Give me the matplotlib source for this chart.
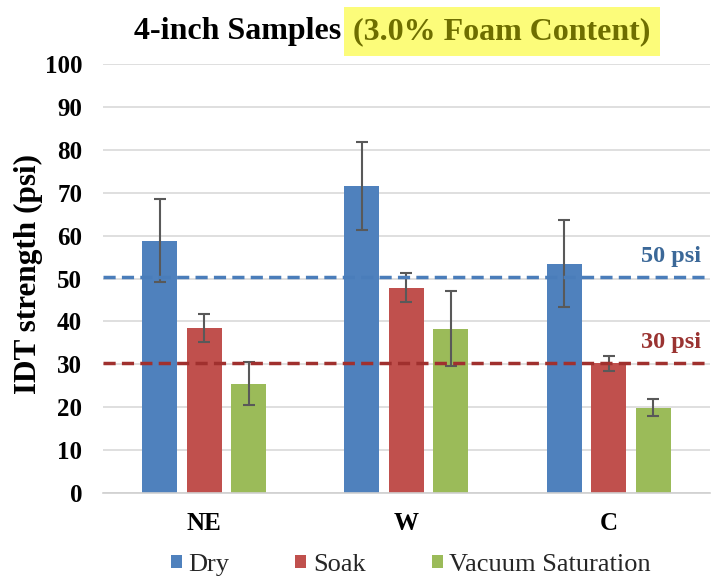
"""IDT strength of 4-inch samples at 3.0% foam content, grouped bars with error bars."""

import matplotlib
matplotlib.use("Agg")
import matplotlib.pyplot as plt
import numpy

sites = ["NE", "W", "C"]
conditions = ["Dry", "Soak", "Vacuum Saturation"]

# mean IDT strength (psi) per condition, one value per site
dry = [58.8, 71.6, 53.5]
soak = [38.5, 47.9, 30.2]
vacuum = [25.5, 38.3, 19.9]

# error bar half-lengths (psi)
dry_err = [9.7, 10.2, 10.1]
soak_err = [3.2, 3.3, 1.8]
vacuum_err = [5.1, 8.8, 1.9]

thresholds = [50.4, 30.3]
threshold_labels = ["50 psi", "30 psi"]

colors = ["#4F81BD", "#C0504D", "#9BBB59"]
line_colors = ["#4A7DBA", "#A0302E"]
text_colors = ["#3B6898", "#9A3331"]

serif = ["Liberation Serif", "DejaVu Serif"]
plt.rcParams["font.family"] = serif

fig = plt.figure(figsize=(7.17, 5.84), dpi=100)
ax = fig.add_axes([0.1437, 0.156, 0.8463, 0.734])

x = numpy.arange(len(sites))
width = 0.173
offsets = [-0.22, 0.0, 0.22]
values = [dry, soak, vacuum]
errors = [dry_err, soak_err, vacuum_err]

for i in range(3):
    ax.bar(x + offsets[i], values[i], width, color=colors[i], label=conditions[i],
           zorder=2)
    ax.errorbar(x + offsets[i], values[i], yerr=errors[i], fmt="none",
                ecolor="#595959", elinewidth=1.5, capsize=4, capthick=1.5, zorder=3)

for t, lab, lc, tc in zip(thresholds, threshold_labels, line_colors, text_colors):
    ax.axhline(t, color=lc, linestyle=(0, (3.5, 1.8)), linewidth=2.5, zorder=4)
    ax.text(2.31, t + 4.7, lab, color=tc, fontsize=17.5, fontweight="bold",
            ha="center", va="center")

ax.set_xlim(-0.5, 2.5)
ax.set_ylim(0, 100)
ax.set_yticks(range(0, 101, 10))
ax.set_xticks(x)
ax.set_xticklabels(sites)
ax.tick_params(length=0)
ax.tick_params(axis="y", labelsize=18, pad=15)
ax.tick_params(axis="x", labelsize=18, pad=14)
for lbl in ax.get_xticklabels() + ax.get_yticklabels():
    lbl.set_fontweight("bold")
ax.grid(axis="y", color="#D9D9D9", linewidth=1.2, zorder=0)
ax.set_axisbelow(True)
for side in ["top", "right", "left"]:
    ax.spines[side].set_visible(False)
ax.spines["bottom"].set_color("#D0D0D0")
ax.spines["bottom"].set_linewidth(1.2)

fig.text(28 / 717, 0.53, "IDT strength (psi)", fontsize=22.5, fontweight="bold",
         rotation=90, ha="center", va="center")

fig.text(0.487, 0.946, "4-inch Samples ", fontsize=23, fontweight="bold",
         ha="right", va="center")
fig.text(0.493, 0.946, "(3.0% Foam Content)", fontsize=23, fontweight="bold",
         color="#6E6E00", ha="left", va="center",
         bbox=dict(boxstyle="square,pad=0.3", facecolor="#FCFC7A", edgecolor="none"))

leg = ax.legend(loc="center", bbox_to_anchor=(0.573, 1 - 565 / 584),
                bbox_transform=fig.transFigure, ncol=3, frameon=False, fontsize=19,
                handlelength=0.42, handleheight=0.42, handletextpad=0.25,
                columnspacing=2.5, borderaxespad=0.0)
for txt in leg.get_texts():
    txt.set_color("#262626")

fig.savefig("out.png", dpi=100)
